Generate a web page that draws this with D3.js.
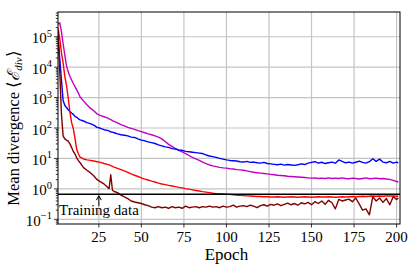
<html><head><meta charset="utf-8"><script src="https://cdn.jsdelivr.net/npm/d3@7"></script></head>
<body style="margin:0">
<script>
// epochs shared by all four curves
var epochs = [1,2,3,4,5,6,7,8,9,10,11,12,13,14,
  16,18,20,22,24,26,28,30,
  31,32,33,
  34,36,38,40,42,44,46,48,50,52,54,56,58,60,62,64,66,68,70,72,74,76,78,80,82,84,86,88,90,92,
  94,96,98,100,102,104,106,108,110,112,114,116,118,120,122,124,126,128,130,132,134,136,138,140,142,144,146,148,150,152,
  154,156,158,160,162,164,166,168,170,172,174,176,178,180,182,184,186,188,190,192,194,196,198,200,
  201];

var magenta = [2.6e5,2.9e5,1.5e5,6e4,2.5e4,1.1e4,7e3,5e3,3.8e3,2.9e3,2.3e3,1.8e3,1.4e3,1.05e3,
  780,580,450,370,290,255,235,215,
  200,190,175,
  165,148,130,118,105,97,90,82,76,70, 64,60,55,50,44,36,29,25,21,18.5,
  16.5,14.5,12.5,10.8,9.6,8.6,7.6,6.8,6.1,5.7, 5.4,5.1,4.9,4.8,4.6,4.5,4.3,4.2,4.1,3.9,
  3.7,3.5,3.4,3.3,3.2,3.1,3.0,2.9,2.8,2.75, 2.7,2.6,2.55,2.5,2.45,2.4,2.35,2.3,2.25,2.3,
  2.2,2.25,2.2,2.3,2.2,2.25,2.2,2.3,2.2,2.15, 2.25,2.2,2.1,2.2,2.3,2.15,2.2,2.25,2.15,2.2,
  2.1,2.05,1.9,1.75,
  1.65];

var blue = [1.0e5,2.0e4,4e3,800,560,470,400,350,310,280,240,225,200,185,
  170,150,140,125,105,98,88,84,
  80,74,73,
  70,64,60,58,55,50,49,44,40,38, 35,33,31,28,26,24,23,21,20.5,19,
  18.5,17,16.5,16,15.5,15,14.5,13,12,11.5, 10.8,10,9.5,9,8.6,8.4,8.2,7.8,7.6,8.0,
  7.4,7.6,7.2,7.0,7.4,6.8,6.6,6.4,6.2,6.5, 6.0,6.3,6.1,5.9,6.2,6.6,6.3,7.0,7.4,7.8,
  7.0,7.5,6.8,7.2,7.6,7.0,8.9,8.0,7.2,7.6, 7.0,7.5,8.2,7.4,7.0,7.8,9.8,8.0,9.5,7.6,
  7.2,8.0,7.0,7.6,
  7.2];

var red = [1.9e5,9e4,3e4,1.4e4,5e3,2.5e3,1e3,330,150,95,45,20,14,11,
  9.6,9.0,8.6,8.2,7.8,7.4,6.8,6.4,
  6.1,5.8,5.5,
  5.2,4.7,4.3,3.9,3.5,3.1,2.8,2.55,2.3,2.1, 1.95,1.8,1.68,1.55,1.45,1.38,1.3,1.24,1.18,1.12,
  1.08,1.02,0.98,0.93,0.88,0.85,0.81,0.78,0.75,0.72, 0.70,0.69,0.68,0.67,0.66,0.64,0.62,0.61,0.60,0.59,
  0.58,0.57,0.56,0.56,0.55,0.55,0.54,0.54,0.55,0.54, 0.53,0.54,0.55,0.54,0.53,0.54,0.55,0.54,0.53,0.54,
  0.55,0.54,0.54,0.55,0.54,0.53,0.54,0.55,0.54,0.55, 0.56,0.55,0.56,0.57,0.56,0.57,0.58,0.57,0.58,0.57,
  0.58,0.59,0.58,0.57,
  0.57];

var darkRed = [1.6e5,8e3,300,55,44,40,37,30,23,17,14,10.5,8.5,7.2,
  5.0,4.1,3.4,2.7,2.0,1.7,1.45,1.15,
  1.0,2.9,0.9,
  0.82,0.75,0.62,0.55,0.48,0.40,0.37,0.35,0.33,0.30, 0.28,0.25,0.24,0.26,0.24,0.25,0.23,0.26,0.24,0.25,
  0.23,0.27,0.24,0.25,0.26,0.24,0.26,0.25,0.27,0.25, 0.26,0.24,0.27,0.25,0.26,0.29,0.25,0.27,0.28,0.26,
  0.29,0.27,0.24,0.28,0.30,0.27,0.31,0.29,0.32,0.28, 0.31,0.34,0.30,0.33,0.29,0.35,0.32,0.36,0.30,0.38,
  0.33,0.40,0.31,0.42,0.35,0.22,0.45,0.40,0.43,0.46, 0.38,0.50,0.32,0.20,0.22,0.14,0.55,0.40,0.50,0.36,
  0.48,0.30,0.55,0.45,
  0.50];

var xTicks = [25, 50, 75, 100, 125, 150, 175, 200];
var yTicks = [1e-1, 1e0, 1e1, 1e2, 1e3, 1e4, 1e5];
var trainingLevel = 0.67;
var trainingEpoch = 25;

var serif = '"Liberation Serif", serif';

var margin = {top: 12, right: 15, bottom: 46, left: 58},
  W = 415, H = 270,
  w = W - margin.left - margin.right,
  h = H - margin.top - margin.bottom;

var svg = d3.select('body').append('svg')
  .attr('width', W).attr('height', H);

var g = svg.append('g').attr('transform', 'translate(' + margin.left + ',' + margin.top + ')');

var x = d3.scaleLinear().domain([1, 202]).range([0, w]);
var y = d3.scaleLog().domain([0.07, 6.5e5]).range([h, 0]);

// grid
g.append('g').selectAll('line.vx')
  .data(xTicks).enter().append('line')
  .attr('x1', d => x(d)).attr('x2', d => x(d))
  .attr('y1', 0).attr('y2', h)
  .attr('stroke', '#c4c4c4').attr('stroke-width', 1.2);
g.append('g').selectAll('line.hy')
  .data(yTicks).enter().append('line')
  .attr('x1', 0).attr('x2', w)
  .attr('y1', d => y(d)).attr('y2', d => y(d))
  .attr('stroke', '#c4c4c4').attr('stroke-width', 1.2);

// curves
var series = [
  {vals: magenta, color: '#c000c0'},
  {vals: blue, color: '#0000ff'},
  {vals: red, color: '#ff0000'},
  {vals: darkRed, color: '#800000'}
];
var line = d3.line()
  .x(d => x(d[0]))
  .y(d => y(d[1]));

g.append('defs').append('clipPath').attr('id', 'clip')
  .append('rect').attr('width', w).attr('height', h);

series.forEach(function(s) {
  g.append('path')
    .datum(epochs.map((e, i) => [e, s.vals[i]]))
    .attr('clip-path', 'url(#clip)')
    .attr('fill', 'none')
    .attr('stroke', s.color)
    .attr('stroke-width', 1.4)
    .attr('stroke-linejoin', 'round')
    .attr('d', line);
});

// training data level
g.append('line')
  .attr('x1', 0).attr('x2', w)
  .attr('y1', y(trainingLevel)).attr('y2', y(trainingLevel))
  .attr('stroke', '#000').attr('stroke-width', 1.5);

// arrow + label
var ax = x(trainingEpoch), ay = y(trainingLevel);
g.append('line')
  .attr('x1', ax).attr('x2', ax)
  .attr('y1', ay + 12).attr('y2', ay + 2)
  .attr('stroke', '#000').attr('stroke-width', 1);
g.append('path')
  .attr('d', 'M' + (ax - 2.5) + ',' + (ay + 6) + 'L' + ax + ',' + (ay + 1.5) + 'L' + (ax + 2.5) + ',' + (ay + 6))
  .attr('fill', 'none').attr('stroke', '#000').attr('stroke-width', 1);
g.append('text')
  .attr('x', 1).attr('y', ay + 21)
  .style('font-family', serif)
  .style('font-size', '15px')
  .text('Training data');

// x axis
g.append('g').selectAll('line')
  .data(xTicks).enter().append('line')
  .attr('x1', d => x(d)).attr('x2', d => x(d))
  .attr('y1', h).attr('y2', h + 3.5)
  .attr('stroke', '#000').attr('stroke-width', 0.8);
g.append('g').selectAll('text')
  .data(xTicks).enter().append('text')
  .attr('x', d => x(d)).attr('y', h + 17.5)
  .attr('text-anchor', 'middle')
  .style('font-family', serif)
  .style('font-size', '15px')
  .text(d => d);

// y axis ticks (major + minor)
var minor = [];
for (var p = -2; p <= 5; p++) {
  for (var k = 1; k <= 9; k++) {
    var v = k * Math.pow(10, p);
    if (v >= 0.07 && v <= 6.5e5) minor.push({v: v, major: k === 1});
  }
}
g.append('g').selectAll('line')
  .data(minor).enter().append('line')
  .attr('x1', d => d.major ? -4 : -2.2).attr('x2', 0)
  .attr('y1', d => y(d.v)).attr('y2', d => y(d.v))
  .attr('stroke', '#000').attr('stroke-width', 0.8);

var yl = g.append('g').selectAll('text')
  .data(yTicks).enter().append('text')
  .attr('x', -6).attr('y', d => y(d) + 6.5)
  .attr('text-anchor', 'end')
  .style('font-family', serif)
  .style('font-size', '15px');
yl.append('tspan').text('10');
yl.append('tspan')
  .attr('dy', -6.5)
  .style('font-size', '10.5px')
  .text(d => Math.round(Math.log10(d)) < 0 ? '\u2212' + Math.abs(Math.round(Math.log10(d))) : Math.round(Math.log10(d)));

// frame
g.append('rect')
  .attr('width', w).attr('height', h)
  .attr('fill', 'none').attr('stroke', '#000').attr('stroke-width', 1);

// labels
svg.append('text')
  .attr('x', margin.left + x(100)).attr('y', 260)
  .attr('text-anchor', 'middle')
  .style('font-family', serif)
  .style('font-size', '17px')
  .text('Epoch');

var ylab = svg.append('text')
  .attr('transform', 'translate(19,128) rotate(-90)')
  .attr('text-anchor', 'middle')
  .style('font-family', serif)
  .style('font-size', '16.5px');
ylab.append('tspan').text('Mean divergence \u27E8');
ylab.append('tspan').style('font-style', 'italic').text('\u2130');
ylab.append('tspan').attr('dy', 3).style('font-size', '11px').style('font-style', 'italic').text('div');
ylab.append('tspan').attr('dy', -3).text('\u27E9');
</script>
</body>
</html>
